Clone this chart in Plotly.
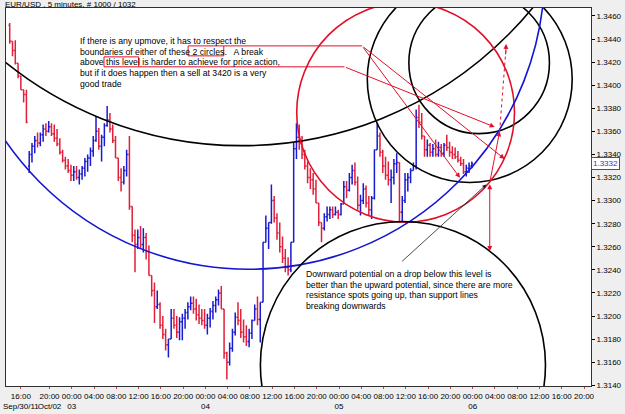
import plotly.graph_objects as go

# ---------------- data (EUR/USD, half-hour bars) ----------------
# bar time in trading hours from Fri 30-Sep-2011 16:00 (weekend removed)
bar_hours = [i / 2 for i in range(-4, 163)]

high = [
    1.3454, 1.3438, 1.3439, 1.3419, 1.3408, 1.3396, 1.3396, 1.3343, 1.3350, 1.3356,
    1.3359, 1.3359, 1.3366, 1.3367, 1.3369, 1.3367, 1.3366, 1.3362, 1.3354, 1.3344,
    1.3338, 1.3336, 1.3331, 1.3330, 1.3330, 1.3327, 1.3330, 1.3337, 1.3340, 1.3346,
    1.3356, 1.3373, 1.3363, 1.3357, 1.3367, 1.3382, 1.3376, 1.3366, 1.3356, 1.3337,
    1.3328, 1.3330, 1.3344, 1.3356, 1.3295, 1.3275, 1.3275, 1.3278, 1.3276, 1.3272,
    1.3261, 1.3235, 1.3229, 1.3222, 1.3212, 1.3200, 1.3189, 1.3180, 1.3206, 1.3206,
    1.3200, 1.3199, 1.3202, 1.3206, 1.3212, 1.3217, 1.3217, 1.3215, 1.3210, 1.3206,
    1.3206, 1.3202, 1.3207, 1.3213, 1.3217, 1.3223, 1.3226, 1.3206, 1.3169, 1.3177,
    1.3189, 1.3203, 1.3212, 1.3206, 1.3197, 1.3192, 1.3189, 1.3197, 1.3210, 1.3217,
    1.3212, 1.3264, 1.3287, 1.3281, 1.3314, 1.3304, 1.3289, 1.3281, 1.3269, 1.3258,
    1.3251, 1.3264, 1.3350, 1.3367, 1.3366, 1.3356, 1.3344, 1.3334, 1.3328, 1.3324,
    1.3318, 1.3298, 1.3281, 1.3289, 1.3295, 1.3295, 1.3295, 1.3295, 1.3292, 1.3298,
    1.3317, 1.3317, 1.3324, 1.3331, 1.3333, 1.3321, 1.3305, 1.3315, 1.3313, 1.3304,
    1.3304, 1.3344, 1.3367, 1.3359, 1.3344, 1.3338, 1.3334, 1.3327, 1.3336, 1.3341,
    1.3333, 1.3304, 1.3324, 1.3324, 1.3328, 1.3333, 1.3379, 1.3383, 1.3376, 1.3356,
    1.3353, 1.3350, 1.3349, 1.3353, 1.3351, 1.3349, 1.3350, 1.3357, 1.3351, 1.3347,
    1.3346, 1.3343, 1.3338, 1.3336, 1.3331, 1.3333, 1.3334,
]
low = [
    1.3436, 1.3425, 1.3418, 1.3406, 1.3396, 1.3385, 1.3367, 1.3324, 1.3333, 1.3341,
    1.3346, 1.3347, 1.3351, 1.3356, 1.3359, 1.3356, 1.3351, 1.3347, 1.3340, 1.3333,
    1.3327, 1.3324, 1.3317, 1.3317, 1.3318, 1.3314, 1.3318, 1.3321, 1.3325, 1.3330,
    1.3338, 1.3351, 1.3344, 1.3334, 1.3347, 1.3364, 1.3359, 1.3350, 1.3337, 1.3317,
    1.3308, 1.3314, 1.3321, 1.3292, 1.3264, 1.3238, 1.3258, 1.3258, 1.3255, 1.3249,
    1.3235, 1.3217, 1.3194, 1.3206, 1.3189, 1.3180, 1.3170, 1.3164, 1.3180, 1.3189,
    1.3181, 1.3179, 1.3179, 1.3189, 1.3197, 1.3205, 1.3202, 1.3196, 1.3193, 1.3192,
    1.3189, 1.3184, 1.3190, 1.3197, 1.3203, 1.3209, 1.3206, 1.3163, 1.3145, 1.3157,
    1.3169, 1.3183, 1.3192, 1.3181, 1.3177, 1.3174, 1.3173, 1.3180, 1.3196, 1.3192,
    1.3177, 1.3212, 1.3264, 1.3258, 1.3280, 1.3281, 1.3266, 1.3255, 1.3246, 1.3238,
    1.3235, 1.3238, 1.3264, 1.3336, 1.3344, 1.3336, 1.3327, 1.3315, 1.3310, 1.3305,
    1.3298, 1.3278, 1.3264, 1.3274, 1.3282, 1.3284, 1.3285, 1.3287, 1.3284, 1.3287,
    1.3297, 1.3302, 1.3308, 1.3314, 1.3313, 1.3292, 1.3287, 1.3297, 1.3294, 1.3287,
    1.3284, 1.3301, 1.3344, 1.3338, 1.3324, 1.3318, 1.3313, 1.3298, 1.3314, 1.3324,
    1.3281, 1.3281, 1.3298, 1.3308, 1.3315, 1.3326, 1.3327, 1.3363, 1.3353, 1.3338,
    1.3338, 1.3338, 1.3338, 1.3338, 1.3338, 1.3338, 1.3338, 1.3343, 1.3338, 1.3336,
    1.3336, 1.3333, 1.3330, 1.3323, 1.3321, 1.3324, 1.3328,
]
close = [
    1.3438, 1.3430, 1.3419, 1.3408, 1.3396, 1.3392, 1.3368, 1.3340, 1.3347, 1.3352,
    1.3350, 1.3357, 1.3362, 1.3360, 1.3364, 1.3358, 1.3354, 1.3349, 1.3342, 1.3335,
    1.3330, 1.3326, 1.3322, 1.3325, 1.3320, 1.3323, 1.3328, 1.3334, 1.3337, 1.3343,
    1.3352, 1.3360, 1.3347, 1.3355, 1.3365, 1.3370, 1.3362, 1.3352, 1.3337, 1.3320,
    1.3316, 1.3326, 1.3340, 1.3295, 1.3270, 1.3262, 1.3268, 1.3262, 1.3268, 1.3256,
    1.3235, 1.3222, 1.3208, 1.3210, 1.3192, 1.3184, 1.3175, 1.3180, 1.3198, 1.3192,
    1.3186, 1.3195, 1.3198, 1.3203, 1.3208, 1.3211, 1.3206, 1.3201, 1.3198, 1.3196,
    1.3192, 1.3198, 1.3204, 1.3209, 1.3214, 1.3220, 1.3206, 1.3168, 1.3160, 1.3172,
    1.3186, 1.3199, 1.3196, 1.3186, 1.3182, 1.3178, 1.3185, 1.3196, 1.3206, 1.3197,
    1.3212, 1.3264, 1.3276, 1.3281, 1.3300, 1.3285, 1.3272, 1.3260, 1.3250, 1.3242,
    1.3240, 1.3264, 1.3345, 1.3355, 1.3350, 1.3340, 1.3330, 1.3320, 1.3318, 1.3310,
    1.3298, 1.3281, 1.3276, 1.3286, 1.3288, 1.3292, 1.3288, 1.3290, 1.3288, 1.3297,
    1.3312, 1.3309, 1.3320, 1.3326, 1.3316, 1.3296, 1.3300, 1.3310, 1.3298, 1.3292,
    1.3302, 1.3344, 1.3356, 1.3342, 1.3330, 1.3322, 1.3318, 1.3320, 1.3332, 1.3333,
    1.3290, 1.3300, 1.3318, 1.3320, 1.3326, 1.3330, 1.3372, 1.3368, 1.3356, 1.3344,
    1.3348, 1.3342, 1.3345, 1.3340, 1.3346, 1.3341, 1.3348, 1.3346, 1.3342, 1.3340,
    1.3338, 1.3335, 1.3332, 1.3325, 1.3328, 1.3330, 1.3332,
]
friday_open = 1.3452
sunday_open_hour = 1.5
sunday_open = 1.3330
last_price = 1.3332

opens = [friday_open] + close[:-1]
opens[bar_hours.index(sunday_open_hour)] = sunday_open

tick_hours = [0, 5.15] + [9.15 + 4 * k for k in range(24)]
tick_labels = ["16:00<br>Sep/30/11", "20:00<br>Oct/02",
               "00:00<br>03", "04:00", "08:00", "12:00", "16:00", "20:00",
               "00:00<br>04", "04:00", "08:00", "12:00", "16:00", "20:00",
               "00:00<br>05", "04:00", "08:00", "12:00", "16:00", "20:00",
               "00:00<br>06", "04:00", "08:00", "12:00", "16:00", "20:00"]

# ---------------- layout helpers (pixel -> axis units for the drawings) ----------------
W, H = 625, 414
ML, MR, MT, MB = 3, 31, 8, 27
X0_PX, PX_PER_H = 18.0, 5.625
Y_REF_PX, Y_REF_P, PX_PER_P = 16.0, 1.3460, 11570.0


def hx(px):
    return (px - X0_PX) / PX_PER_H


def pv(ypx):
    return Y_REF_P - (ypx - Y_REF_PX) / PX_PER_P


RED = "#e0102a"
BLUE = "#1414d2"
FONT = "Liberation Sans, Arial, sans-serif"

fig = go.Figure()
fig.add_trace(go.Ohlc(
    x=bar_hours, open=opens, high=high, low=low, close=close,
    increasing=dict(line=dict(color="#1a1ad0", width=1.5)),
    decreasing=dict(line=dict(color="#e0203a", width=1.5)),
    tickwidth=0.45, hoverinfo="skip", showlegend=False,
))

shapes = []
# circles: (center x px, center y px, radius px, colour)
circles = [
    (241, -236, 382, "black"),
    (481, 63, 71, "black"),
    (471.5, 79.5, 103.5, "black"),
    (406.7, 112.7, 110, RED),
    (248.3, -29, 299, BLUE),
    (404, 366, 144, "black"),
]
for cx, cy, r, col in circles:
    shapes.append(dict(type="circle", xref="x", yref="y",
                       x0=hx(cx - r), x1=hx(cx + r), y0=pv(cy + r), y1=pv(cy - r),
                       line=dict(color=col, width=1.6), layer="above"))


def seg(x0, y0, x1, y1, col, w=1, dash="solid"):
    shapes.append(dict(type="line", xref="x", yref="y",
                       x0=hx(x0), y0=pv(y0), x1=hx(x1), y1=pv(y1),
                       line=dict(color=col, width=w, dash=dash), layer="above"))


def rect(x0, y0, x1, y1, col):
    shapes.append(dict(type="rect", xref="x", yref="y",
                       x0=hx(x0), y0=pv(y0), x1=hx(x1), y1=pv(y1),
                       line=dict(color=col, width=1), layer="above"))


# boxes around words and their leader lines
rect(187, 46, 223, 56, RED)
rect(102, 57, 137, 67, RED)
seg(223, 46, 362.7, 46, RED)
seg(137, 67, 345, 67, RED)
# dashed leg of the up arrow
seg(501.7, 131.7, 508, 50, RED, 1, "dot")

annotations = []


def arrow(x0, y0, x1, y1, col, w=1, head=2, size=1.0, side="end"):
    annotations.append(dict(
        x=hx(x1), y=pv(y1), ax=hx(x0), ay=pv(y0), xref="x", yref="y",
        axref="x", ayref="y", text="", showarrow=True, arrowhead=head,
        startarrowhead=head, arrowsize=size, startarrowsize=size,
        arrowwidth=w, arrowcolor=col, arrowside=side, standoff=0, startstandoff=0))


arrow(362.7, 46, 461.7, 178.3, RED)
arrow(362.7, 46, 506.7, 159.3, RED)
arrow(345, 67, 496.7, 127.3, RED)
arrow(491.7, 183.3, 501.7, 131.7, RED)
arrow(507.7, 56, 508.3, 44, RED)
arrow(491.7, 183.3, 491.7, 251.7, RED, side="end+start")
arrow(401.7, 263.3, 488.3, 185, "#202020", w=0.8)


def text(x, y, s, size=8.7):
    annotations.append(dict(x=hx(x), y=pv(y), xref="x", yref="y", text=s,
                            showarrow=False, xanchor="left", yanchor="middle",
                            font=dict(family=FONT, size=size, color="black"),
                            borderpad=0))


lines1 = ["If there is any upmove, it has to respect the",
          "boundaries of either of these 2 circles.\u00a0\u00a0 A break",
          "above this level is harder to achieve for price action,",
          "but if it does happen then a sell at 3420 is a very",
          "good trade"]
for i, s in enumerate(lines1):
    text(76.5, 41 + i * 10.7, s)

lines2 = ["Downward potential on a drop below this level is",
          "better than the upward potential, since there are more",
          "resistance spots going up, than support lines",
          "breaking downwards"]
for i, s in enumerate(lines2):
    text(305.5, 275 + i * 10.6, s)

PH = H - MT - MB
annotations.append(dict(xref="paper", yref="paper", x=(0 - ML) / (W - ML - MR),
                        y=(PH + MT - 4) / PH,
                        text="EUR/USD , 5 minutes, # 1000 / 1032", showarrow=False,
                        xanchor="left", yanchor="middle",
                        font=dict(family=FONT, size=8, color="black")))
annotations.append(dict(xref="paper", yref="y", x=1, y=last_price, text="1.3332",
                        showarrow=False, xanchor="left", yanchor="middle",
                        font=dict(family=FONT, size=8, color="#3535c8"),
                        bgcolor="white", bordercolor=RED, borderwidth=1, borderpad=1))

fig.update_layout(
    width=W, height=H, margin=dict(l=ML, r=MR, t=MT, b=MB, pad=0),
    paper_bgcolor="#efefef", plot_bgcolor="white",
    shapes=shapes, annotations=annotations, showlegend=False,
    font=dict(family=FONT, size=8, color="black"),
    xaxis=dict(range=[hx(ML), hx(W - MR)], tickmode="array", tickvals=tick_hours,
               ticktext=tick_labels, tickangle=0, showgrid=False, zeroline=False,
               showline=True, linecolor="#303030", linewidth=1, mirror=True,
               ticks="outside", ticklen=2, tickcolor="#c84040",
               tickfont=dict(family=FONT, size=8, color="black"),
               rangeslider=dict(visible=False), fixedrange=True),
    yaxis=dict(range=[pv(H - MB), pv(MT)], side="right", tick0=1.3140, dtick=0.002,
               tickformat=".4f", showgrid=False, zeroline=False,
               showline=True, linecolor="#303030", linewidth=1, mirror=True,
               ticks="outside", ticklen=3, tickcolor="black",
               tickfont=dict(family=FONT, size=8, color="black"), fixedrange=True),
)

fig.write_html("out.html", config={"displayModeBar": False})
